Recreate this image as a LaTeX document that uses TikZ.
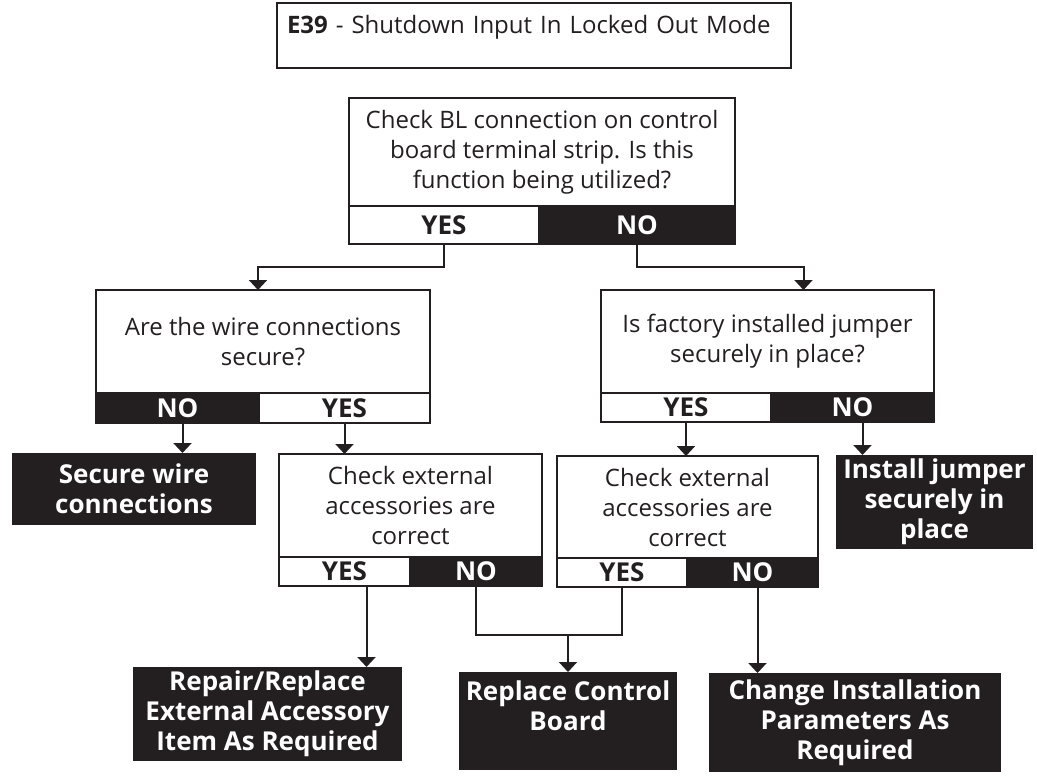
\documentclass[tikz,border=0pt]{standalone}
\usepackage{fontspec}
\setmainfont{Open Sans}
\usetikzlibrary{arrows.meta,positioning}
\definecolor{ink}{HTML}{231F20}
\newcommand{\chartfont}{\fontsize{24}{30}\selectfont}
\newcommand{\boldchartfont}{\fontsize{26}{30}\selectfont\bfseries}

\begin{document}
\begin{tikzpicture}[
  x=1pt, y=-1pt,
  >={Triangle[width=18pt,length=10pt]},
  question/.style={draw=ink,line width=2pt,fill=white,text=ink,align=center,
    inner sep=0pt,outer sep=0pt,font=\chartfont},
  yesbar/.style={draw=ink,line width=2pt,fill=white,text=ink,inner sep=0pt,
    outer sep=0pt,font=\boldchartfont},
  nobar/.style={draw=ink,line width=2pt,fill=ink,text=white,inner sep=0pt,
    outer sep=0pt,font=\boldchartfont},
  action/.style={fill=ink,text=white,align=center,inner sep=0pt,outer sep=0pt,
    font=\boldchartfont},
  link/.style={draw=ink,line width=2pt},
  flow/.style={link,->}
]
  \useasboundingbox (0,0) rectangle (1037,777);

  % heading
  \node[question,minimum width=514,minimum height=65,text width=494,align=left,
    text height=18pt,text depth=23pt] (title) at (534,35.5)
    {\textbf{E39} - Shutdown Input In Locked Out Mode};

  % first question
  \node[question,minimum width=386,minimum height=108] (topq) at (542,152)
    {Check BL connection on control\\board terminal strip. Is this\\function being utilized?};
  \node[yesbar,minimum width=190,minimum height=38,anchor=north west] (topyes) at (topq.south west) {YES};
  \node[nobar,minimum width=196,minimum height=38,anchor=west] (topno) at (topyes.east) {NO};

  % second row
  \node[question,minimum width=334,minimum height=103] (wireq) at (263,341.5)
    {Are the wire connections\\secure?};
  \node[nobar,minimum width=163,minimum height=30,anchor=north west] (wireno) at (wireq.south west) {NO};
  \node[yesbar,minimum width=171,minimum height=30,anchor=west] (wireyes) at (wireno.east) {YES};

  \node[question,minimum width=333,minimum height=103] (jumperq) at (767.5,341.5)
    {Is factory installed jumper\\securely in place?};
  \node[yesbar,minimum width=170,minimum height=29,anchor=north west] (jumperyes) at (jumperq.south west) {YES};
  \node[nobar,minimum width=163,minimum height=29,anchor=west] (jumperno) at (jumperyes.east) {NO};

  % third row
  \node[action,minimum width=244,minimum height=72] (secure) at (134,489)
    {Secure wire\\connections};

  \node[question,minimum width=263,minimum height=103] (accl) at (410.5,505.5)
    {Check external\\accessories are\\correct};
  \node[yesbar,minimum width=131,minimum height=29,anchor=north west] (acclyes) at (accl.south west) {YES};
  \node[nobar,minimum width=132,minimum height=29,anchor=west] (acclno) at (acclyes.east) {NO};

  \node[question,minimum width=261,minimum height=102] (accr) at (687.5,507)
    {Check external\\accessories are\\correct};
  \node[yesbar,minimum width=130,minimum height=29,anchor=north west] (accryes) at (accr.south west) {YES};
  \node[nobar,minimum width=131,minimum height=29,anchor=west] (accrno) at (accryes.east) {NO};

  \node[action,minimum width=197,minimum height=94] (fixjumper) at (934.5,502)
    {Install jumper\\securely in\\place};

  % results
  \node[action,minimum width=269,minimum height=94] (repair) at (267.5,714)
    {Repair/Replace\\External Accessory\\Item As Required};
  \node[action,minimum width=218,minimum height=98] (board) at (568,721)
    {Replace Control\\Board\\\mbox{}};
  \node[action,minimum width=292,minimum height=99] (change) at (855,722.5)
    {Change Installation\\Parameters As\\Required};

  % connectors
  \draw[flow] (topyes.south) -- ++(0,23) -| ([xshift=-5pt]wireq.north);
  \draw[flow] (topno.south) -- ++(0,23) -| ([xshift=36pt]jumperq.north);
  \draw[flow] ([xshift=5pt]wireno.south) -- ([xshift=5pt]wireno.south |- secure.north);
  \draw[flow] (wireyes.south) -- (wireyes.south |- accl.north);
  \draw[flow] (jumperyes.south) -- (jumperyes.south |- accr.north);
  \draw[flow] ([xshift=10pt]jumperno.south) -- ([xshift=10pt]jumperno.south |- fixjumper.north);
  \draw[flow] ([xshift=22pt]acclyes.south) -- ([xshift=22pt]acclyes.south |- repair.north);
  \path (board.north) ++(0,-37) coordinate (merge);
  \draw[link] (acclno.south) |- (merge) -| (accryes.south);
  \draw[flow] (merge) -- (board.north);
  \draw[flow] ([xshift=5pt]accrno.south) -- ([xshift=5pt]accrno.south |- change.north);
\end{tikzpicture}
\end{document}
